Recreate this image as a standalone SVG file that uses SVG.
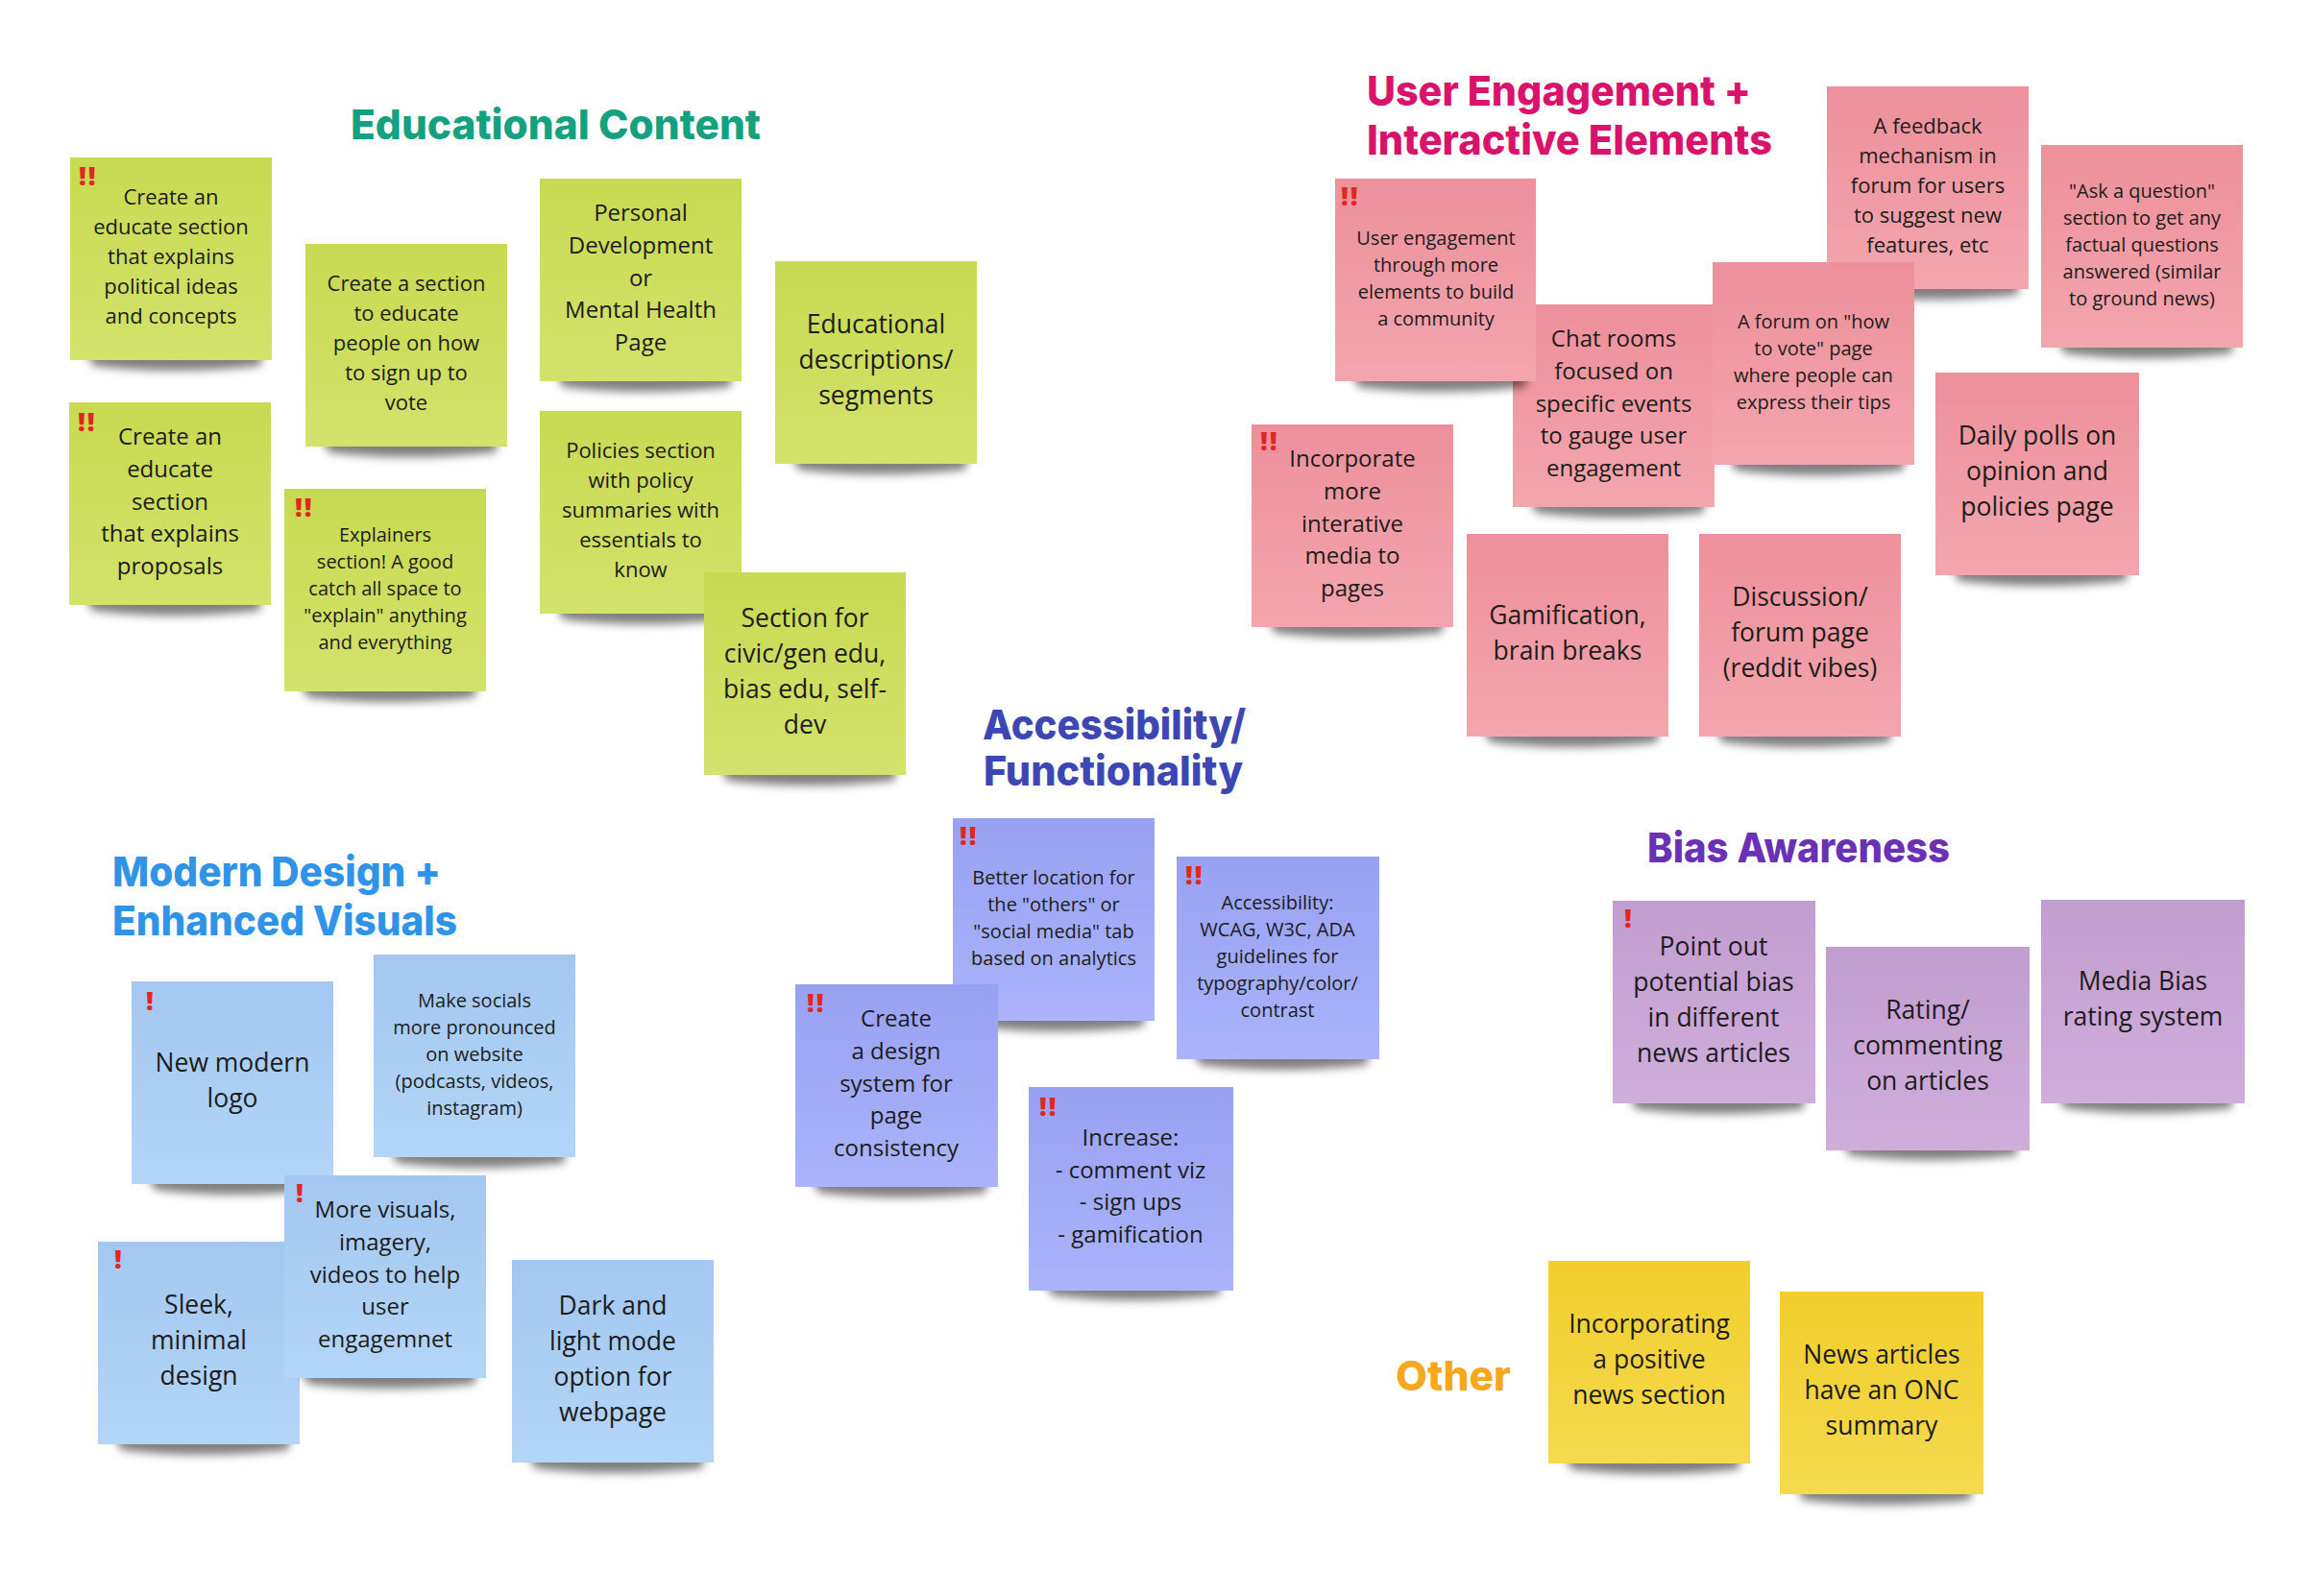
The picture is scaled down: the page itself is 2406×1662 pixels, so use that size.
<svg xmlns="http://www.w3.org/2000/svg" xmlns:xlink="http://www.w3.org/1999/xlink" width="2406" height="1662" viewBox="0 0 2406 1662">
<style>
.t{font-family:"Open Sans","Noto Sans","DejaVu Sans",sans-serif;fill:#1c1c1c;text-anchor:middle}
.sm{font-size:20px}.md{font-size:22px}.lg{font-size:24px}.xl{font-size:26.5px}
.x{font-family:"Open Sans","DejaVu Sans",sans-serif;font-weight:800;font-size:27px;fill:#e3261d;letter-spacing:2px}
.h{font-family:Inter,"Liberation Sans",sans-serif;font-weight:800;font-size:43px}
.ng{fill:url(#gG)}.np{fill:url(#gP)}.nb{fill:url(#gB)}.na{fill:url(#gA)}.nv{fill:url(#gV)}.ny{fill:url(#gY)}
</style>
<defs>
<linearGradient id="gG" x1="0" y1="0" x2="0" y2="1"><stop offset="0" stop-color="#c8da52"/><stop offset="1" stop-color="#d3e26b"/></linearGradient>
<linearGradient id="gP" x1="0" y1="0" x2="0" y2="1"><stop offset="0" stop-color="#ed909b"/><stop offset="1" stop-color="#f3a5ae"/></linearGradient>
<linearGradient id="gB" x1="0" y1="0" x2="0" y2="1"><stop offset="0" stop-color="#a3c7f0"/><stop offset="1" stop-color="#b3d5f8"/></linearGradient>
<linearGradient id="gA" x1="0" y1="0" x2="0" y2="1"><stop offset="0" stop-color="#99a1f3"/><stop offset="1" stop-color="#aab3fb"/></linearGradient>
<linearGradient id="gV" x1="0" y1="0" x2="0" y2="1"><stop offset="0" stop-color="#c29dcf"/><stop offset="1" stop-color="#cfaedb"/></linearGradient>
<linearGradient id="gY" x1="0" y1="0" x2="0" y2="1"><stop offset="0" stop-color="#f1ce2b"/><stop offset="1" stop-color="#f5da4f"/></linearGradient>
<filter id="bl" x="-20%" y="-60%" width="140%" height="220%"><feGaussianBlur stdDeviation="5"/></filter>
<path id="sh" d="M14 196 H202 L198 217 Q106 227 24 217 Z" fill="#000" opacity="0.5" filter="url(#bl)"/>
</defs>
<rect width="2406" height="1662" fill="#ffffff"/>

<g id="titles">
<text class="h" x="365" y="145" textLength="427" lengthAdjust="spacingAndGlyphs" fill="#13a17f">Educational Content</text>
<text class="h" x="1423" y="110" textLength="400" lengthAdjust="spacingAndGlyphs" fill="#d9136b">User Engagement +</text>
<text class="h" x="1423" y="161" textLength="422" lengthAdjust="spacingAndGlyphs" fill="#d9136b">Interactive Elements</text>
<text class="h" x="117" y="923" textLength="342" lengthAdjust="spacingAndGlyphs" fill="#2f94e7">Modern Design +</text>
<text class="h" x="117" y="974" textLength="359" lengthAdjust="spacingAndGlyphs" fill="#2f94e7">Enhanced Visuals</text>
<text class="h" x="1023" y="770" textLength="274" lengthAdjust="spacingAndGlyphs" fill="#3d47b3">Accessibility/</text>
<text class="h" x="1024" y="818" textLength="270" lengthAdjust="spacingAndGlyphs" fill="#3d47b3">Functionality</text>
<text class="h" x="1715" y="898" textLength="315" lengthAdjust="spacingAndGlyphs" fill="#6a30b6">Bias Awareness</text>
<text class="h" x="1453" y="1448" textLength="120" lengthAdjust="spacingAndGlyphs" fill="#f6a71b">Other</text>
</g>

<g id="connectors"></g>

<!-- Educational Content -->
<g id="g1" transform="translate(73 164)"><use href="#sh"/><rect class="ng" width="210" height="211"/><text class="x" x="9" y="29">!!</text>
<text class="t md" y="49"><tspan x="105">Create an</tspan><tspan x="105" dy="31">educate section</tspan><tspan x="105" dy="31">that explains</tspan><tspan x="105" dy="31">political ideas</tspan><tspan x="105" dy="31">and concepts</tspan></text></g>
<g id="g2" transform="translate(72 419)"><use href="#sh"/><rect class="ng" width="210" height="211"/><text class="x" x="9" y="30">!!</text>
<text class="t lg" y="44.3"><tspan x="105">Create an</tspan><tspan x="105" dy="33.6">educate</tspan><tspan x="105" dy="33.6">section</tspan><tspan x="105" dy="33.6">that explains</tspan><tspan x="105" dy="33.6">proposals</tspan></text></g>
<g id="g3" transform="translate(318 254)"><use href="#sh"/><rect class="ng" width="210" height="211"/>
<text class="t md" y="49"><tspan x="105">Create a section</tspan><tspan x="105" dy="31">to educate</tspan><tspan x="105" dy="31">people on how</tspan><tspan x="105" dy="31">to sign up to</tspan><tspan x="105" dy="31">vote</tspan></text></g>
<g id="g4" transform="translate(296 509)"><use href="#sh"/><rect class="ng" width="210" height="211"/><text class="x" x="11" y="29">!!</text>
<text class="t sm" y="54.5"><tspan x="105">Explainers</tspan><tspan x="105" dy="28">section! A good</tspan><tspan x="105" dy="28">catch all space to</tspan><tspan x="105" dy="28">"explain" anything</tspan><tspan x="105" dy="28">and everything</tspan></text></g>
<g id="g5" transform="translate(562 186)"><use href="#sh"/><rect class="ng" width="210" height="211"/>
<text class="t lg" y="44.3"><tspan x="105">Personal</tspan><tspan x="105" dy="33.6">Development</tspan><tspan x="105" dy="33.6">or</tspan><tspan x="105" dy="33.6">Mental Health</tspan><tspan x="105" dy="33.6">Page</tspan></text></g>
<g id="g6" transform="translate(562 428)"><use href="#sh"/><rect class="ng" width="210" height="211"/>
<text class="t md" y="49"><tspan x="105">Policies section</tspan><tspan x="105" dy="31">with policy</tspan><tspan x="105" dy="31">summaries with</tspan><tspan x="105" dy="31">essentials to</tspan><tspan x="105" dy="31">know</tspan></text></g>
<g id="g7" transform="translate(807 272)"><use href="#sh"/><rect class="ng" width="210" height="211"/>
<text class="t xl" y="75.1"><tspan x="105">Educational</tspan><tspan x="105" dy="37">descriptions/</tspan><tspan x="105" dy="37">segments</tspan></text></g>
<g id="g8" transform="translate(733 596)"><use href="#sh"/><rect class="ng" width="210" height="211"/>
<text class="t xl" y="56.6"><tspan x="105">Section for</tspan><tspan x="105" dy="37">civic/gen edu,</tspan><tspan x="105" dy="37">bias edu, self-</tspan><tspan x="105" dy="37">dev</tspan></text></g>

<!-- User Engagement -->
<g id="p2" transform="translate(1575 317)"><use href="#sh"/><rect class="np" width="210" height="211"/>
<text class="t lg" y="44.3"><tspan x="105">Chat rooms</tspan><tspan x="105" dy="33.6">focused on</tspan><tspan x="105" dy="33.6">specific events</tspan><tspan x="105" dy="33.6">to gauge user</tspan><tspan x="105" dy="33.6">engagement</tspan></text></g>
<g id="p4" transform="translate(1902 90)"><use href="#sh"/><rect class="np" width="210" height="211"/>
<text class="t md" y="49"><tspan x="105">A feedback</tspan><tspan x="105" dy="31">mechanism in</tspan><tspan x="105" dy="31">forum for users</tspan><tspan x="105" dy="31">to suggest new</tspan><tspan x="105" dy="31">features, etc</tspan></text></g>
<g id="p3" transform="translate(1783 273)"><use href="#sh"/><rect class="np" width="210" height="211"/>
<text class="t sm" y="68.5"><tspan x="105">A forum on "how</tspan><tspan x="105" dy="28">to vote" page</tspan><tspan x="105" dy="28">where people can</tspan><tspan x="105" dy="28">express their tips</tspan></text></g>
<g id="p1" transform="translate(1390 186)"><use href="#sh"/><rect class="np" width="209" height="211"/><text class="x" x="6" y="28">!!</text>
<text class="t sm" y="68.5"><tspan x="105">User engagement</tspan><tspan x="105" dy="28">through more</tspan><tspan x="105" dy="28">elements to build</tspan><tspan x="105" dy="28">a community</tspan></text></g>
<g id="p5" transform="translate(2125 151)"><use href="#sh"/><rect class="np" width="210" height="211"/>
<text class="t sm" y="54.5"><tspan x="105">"Ask a question"</tspan><tspan x="105" dy="28">section to get any</tspan><tspan x="105" dy="28">factual questions</tspan><tspan x="105" dy="28">answered (similar</tspan><tspan x="105" dy="28">to ground news)</tspan></text></g>
<g id="p6" transform="translate(1303 442)"><use href="#sh"/><rect class="np" width="210" height="211"/><text class="x" x="9" y="27">!!</text>
<text class="t lg" y="44.3"><tspan x="105">Incorporate</tspan><tspan x="105" dy="33.6">more</tspan><tspan x="105" dy="33.6">interative</tspan><tspan x="105" dy="33.6">media to</tspan><tspan x="105" dy="33.6">pages</tspan></text></g>
<g id="p7" transform="translate(1527 556)"><use href="#sh"/><rect class="np" width="210" height="211"/>
<text class="t xl" y="93.6"><tspan x="105">Gamification,</tspan><tspan x="105" dy="37">brain breaks</tspan></text></g>
<g id="p8" transform="translate(1769 556)"><use href="#sh"/><rect class="np" width="210" height="211"/>
<text class="t xl" y="75.1"><tspan x="105">Discussion/</tspan><tspan x="105" dy="37">forum page</tspan><tspan x="105" dy="37">(reddit vibes)</tspan></text></g>
<g id="p9" transform="translate(2015 388)"><use href="#sh"/><rect class="np" width="212" height="211"/>
<text class="t xl" y="75.1"><tspan x="106">Daily polls on</tspan><tspan x="106" dy="37">opinion and</tspan><tspan x="106" dy="37">policies page</tspan></text></g>

<!-- Modern Design -->
<g id="b1" transform="translate(137 1022)"><use href="#sh"/><rect class="nb" width="210" height="211"/><text class="x" x="15" y="30">!</text>
<text class="t xl" y="93.6"><tspan x="105">New modern</tspan><tspan x="105" dy="37">logo</tspan></text></g>
<g id="b2" transform="translate(389 994)"><use href="#sh"/><rect class="nb" width="210" height="211"/>
<text class="t sm" y="54.5"><tspan x="105">Make socials</tspan><tspan x="105" dy="28">more pronounced</tspan><tspan x="105" dy="28">on website</tspan><tspan x="105" dy="28">(podcasts, videos,</tspan><tspan x="105" dy="28">instagram)</tspan></text></g>
<g id="b4" transform="translate(102 1293)"><use href="#sh"/><rect class="nb" width="210" height="211"/><text class="x" x="17" y="28">!</text>
<text class="t xl" y="75.1"><tspan x="105">Sleek,</tspan><tspan x="105" dy="37">minimal</tspan><tspan x="105" dy="37">design</tspan></text></g>
<g id="b3" transform="translate(296 1224)"><use href="#sh"/><rect class="nb" width="210" height="211"/><text class="x" x="12" y="28">!</text>
<text class="t lg" y="44.3"><tspan x="105">More visuals,</tspan><tspan x="105" dy="33.6">imagery,</tspan><tspan x="105" dy="33.6">videos to help</tspan><tspan x="105" dy="33.6">user</tspan><tspan x="105" dy="33.6">engagemnet</tspan></text></g>
<g id="b5" transform="translate(533 1312)"><use href="#sh"/><rect class="nb" width="210" height="211"/>
<text class="t xl" y="56.6"><tspan x="105">Dark and</tspan><tspan x="105" dy="37">light mode</tspan><tspan x="105" dy="37">option for</tspan><tspan x="105" dy="37">webpage</tspan></text></g>

<!-- Accessibility -->
<g id="a1" transform="translate(992 852)"><use href="#sh"/><rect class="na" width="210" height="211"/><text class="x" x="7" y="28">!!</text>
<text class="t sm" y="68.5"><tspan x="105">Better location for</tspan><tspan x="105" dy="28">the "others" or</tspan><tspan x="105" dy="28">"social media" tab</tspan><tspan x="105" dy="28">based on analytics</tspan></text></g>
<g id="a2" transform="translate(1225 892)"><use href="#sh"/><rect class="na" width="211" height="211"/><text class="x" x="9" y="29">!!</text>
<text class="t sm" y="54.5"><tspan x="105">Accessibility:</tspan><tspan x="105" dy="28">WCAG, W3C, ADA</tspan><tspan x="105" dy="28">guidelines for</tspan><tspan x="105" dy="28">typography/color/</tspan><tspan x="105" dy="28">contrast</tspan></text></g>
<g id="a3" transform="translate(828 1025)"><use href="#sh"/><rect class="na" width="211" height="211"/><text class="x" x="12" y="29">!!</text>
<text class="t lg" y="44.3"><tspan x="105">Create</tspan><tspan x="105" dy="33.6">a design</tspan><tspan x="105" dy="33.6">system for</tspan><tspan x="105" dy="33.6">page</tspan><tspan x="105" dy="33.6">consistency</tspan></text></g>
<g id="a4" transform="translate(1071 1132)"><use href="#sh"/><rect class="na" width="213" height="212"/><text class="x" x="11" y="30">!!</text>
<text class="t lg" y="61.1"><tspan x="106">Increase:</tspan><tspan x="106" dy="33.6">- comment viz</tspan><tspan x="106" dy="33.6">- sign ups</tspan><tspan x="106" dy="33.6">- gamification</tspan></text></g>

<!-- Bias Awareness -->
<g id="v1" transform="translate(1679 938)"><use href="#sh"/><rect class="nv" width="211" height="211"/><text class="x" x="12" y="28">!</text>
<text class="t xl" y="56.6"><tspan x="105">Point out</tspan><tspan x="105" dy="37">potential bias</tspan><tspan x="105" dy="37">in different</tspan><tspan x="105" dy="37">news articles</tspan></text></g>
<g id="v2" transform="translate(1901 986)"><use href="#sh"/><rect class="nv" width="212" height="212"/>
<text class="t xl" y="75.1"><tspan x="106">Rating/</tspan><tspan x="106" dy="37">commenting</tspan><tspan x="106" dy="37">on articles</tspan></text></g>
<g id="v3" transform="translate(2125 937)"><use href="#sh"/><rect class="nv" width="212" height="212"/>
<text class="t xl" y="93.6"><tspan x="106">Media Bias</tspan><tspan x="106" dy="37">rating system</tspan></text></g>

<!-- Other -->
<g id="y1" transform="translate(1612 1313)"><use href="#sh"/><rect class="ny" width="210" height="211"/>
<text class="t xl" y="75.1"><tspan x="105">Incorporating</tspan><tspan x="105" dy="37">a positive</tspan><tspan x="105" dy="37">news section</tspan></text></g>
<g id="y2" transform="translate(1853 1345)"><use href="#sh"/><rect class="ny" width="212" height="211"/>
<text class="t xl" y="75.1"><tspan x="106">News articles</tspan><tspan x="106" dy="37">have an ONC</tspan><tspan x="106" dy="37">summary</tspan></text></g>
</svg>
